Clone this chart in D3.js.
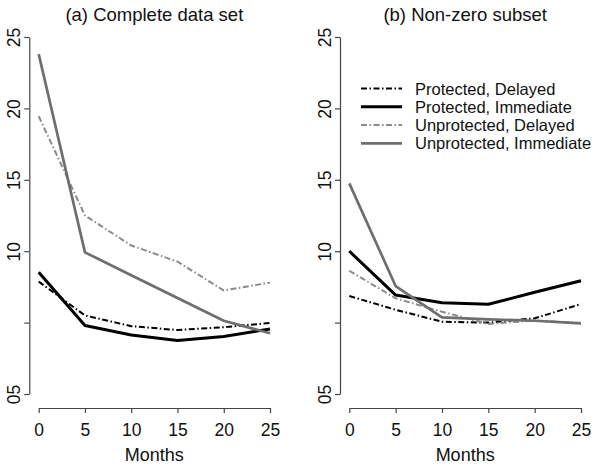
<!DOCTYPE html>
<html>
<head>
<meta charset="utf-8">
<script src="https://cdn.jsdelivr.net/npm/d3@7"></script>
<style>
  body { margin: 0; background: #fff; }
  svg text { font-family: "Liberation Sans", Arial, sans-serif; fill: #111; }
</style>
</head>
<body>
<svg width="600" height="469"></svg>
<script>
var months = [0, 5, 10, 15, 20, 25];
var seriesNames = ["Protected, Delayed", "Protected, Immediate", "Unprotected, Delayed", "Unprotected, Immediate"];
var yTicks = [0, 5, 10, 15, 20, 25],
    yTickLabels = ["05", "", "10", "15", "20", "25"];

// (a) complete data set
var completeProtDelayed   = [7.87, 5.5, 4.75, 4.48, 4.68, 4.97],
    completeProtImmediate = [8.52, 4.8, 4.13, 3.75, 4.03, 4.55],
    completeUnprDelayed   = [19.45, 12.5, 10.4, 9.27, 7.25, 7.8],
    completeUnprImmediate = [23.8, 9.92, 8.31, 6.72, 5.13, 4.25];

// (b) non-zero subset
var nonzeroProtDelayed   = [6.86, 5.9, 5.06, 5.0, 5.3, 6.3],
    nonzeroProtImmediate = [10.0, 6.93, 6.39, 6.28, 7.12, 7.93],
    nonzeroUnprDelayed   = [8.63, 6.7, 5.76, 4.9, 5.15, 4.97],
    nonzeroUnprImmediate = [14.75, 7.56, 5.37, 5.23, 5.13, 4.95];

var panels = [
  {title: "(a) Complete data set", x0: 38.7, x1: 270, axisX: 29.3,
   series: [completeProtDelayed, completeProtImmediate, completeUnprDelayed, completeUnprImmediate]},
  {title: "(b) Non-zero subset", x0: 349.3, x1: 581, axisX: 340,
   series: [nonzeroProtDelayed, nonzeroProtImmediate, nonzeroUnprDelayed, nonzeroUnprImmediate]}
];

var styles = [
  {stroke: "#000", width: 2, dash: "6,2.5,1.5,2.5"},
  {stroke: "#000", width: 3, dash: null},
  {stroke: "#8a8a8a", width: 2, dash: "6,2.5,1.5,2.5"},
  {stroke: "#6e6e6e", width: 2.7, dash: null}
];

var svg = d3.select("svg");
var y = d3.scaleLinear().domain([0, 25]).range([394, 37]);

panels.forEach(function(p) {
  var x = d3.scaleLinear().domain([0, 25]).range([p.x0, p.x1]);
  var g = svg.append("g");

  // x axis
  var xa = g.append("g")
    .attr("transform", "translate(0,408)")
    .call(d3.axisBottom(x).tickValues(months).tickSize(5).tickPadding(11).tickSizeOuter(0));
  xa.select(".domain").attr("stroke", "#444").attr("stroke-width", 1.2);
  xa.selectAll(".tick line").attr("stroke", "#444").attr("stroke-width", 1.2);
  xa.selectAll("text").attr("font-size", 17.5).attr("fill", "#111")
    .attr("font-family", "Liberation Sans, Arial, sans-serif");

  // y axis
  var ya = g.append("g")
    .attr("transform", "translate(" + p.axisX + ",0)")
    .call(d3.axisLeft(y).tickValues(yTicks).tickSize(5).tickSizeOuter(0)
      .tickFormat(function(d, i) { return yTickLabels[i]; }));
  ya.select(".domain").attr("stroke", "#444").attr("stroke-width", 1.2);
  ya.selectAll(".tick line").attr("stroke", "#444").attr("stroke-width", 1.2);
  ya.selectAll("text")
    .attr("font-size", 17.5).attr("fill", "#111")
    .attr("font-family", "Liberation Sans, Arial, sans-serif")
    .attr("text-anchor", "middle")
    .attr("x", null).attr("dy", null)
    .attr("transform", "translate(-9,0) rotate(-90)");

  // title and x label
  g.append("text")
    .attr("x", (p.x0 + p.x1) / 2).attr("y", 21)
    .attr("text-anchor", "middle").attr("font-size", 18.5)
    .text(p.title);
  g.append("text")
    .attr("x", (p.x0 + p.x1) / 2).attr("y", 461)
    .attr("text-anchor", "middle").attr("font-size", 18)
    .text("Months");

  var line = d3.line()
    .x(function(d, i) { return x(months[i]); })
    .y(function(d) { return y(d); });

  p.series.forEach(function(s, k) {
    g.append("path")
      .datum(s)
      .attr("d", line)
      .attr("fill", "none")
      .attr("stroke", styles[k].stroke)
      .attr("stroke-width", styles[k].width)
      .attr("stroke-dasharray", styles[k].dash)
      .attr("stroke-linejoin", "round");
  });
});

// legend
var legend = svg.append("g").attr("class", "legend")
  .selectAll("g")
  .data(seriesNames)
  .enter().append("g")
    .attr("transform", function(d, i) { return "translate(361," + (88.5 + i * 18.3) + ")"; });

legend.append("line")
  .attr("x1", 0).attr("x2", 41)
  .attr("stroke", function(d, i) { return styles[i].stroke; })
  .attr("stroke-width", function(d, i) { return styles[i].width; })
  .attr("stroke-dasharray", function(d, i) { return styles[i].dash; });

legend.append("text")
  .attr("x", 54).attr("y", 6)
  .attr("font-size", 16.5)
  .text(function(d) { return d; });
</script>
</body>
</html>
